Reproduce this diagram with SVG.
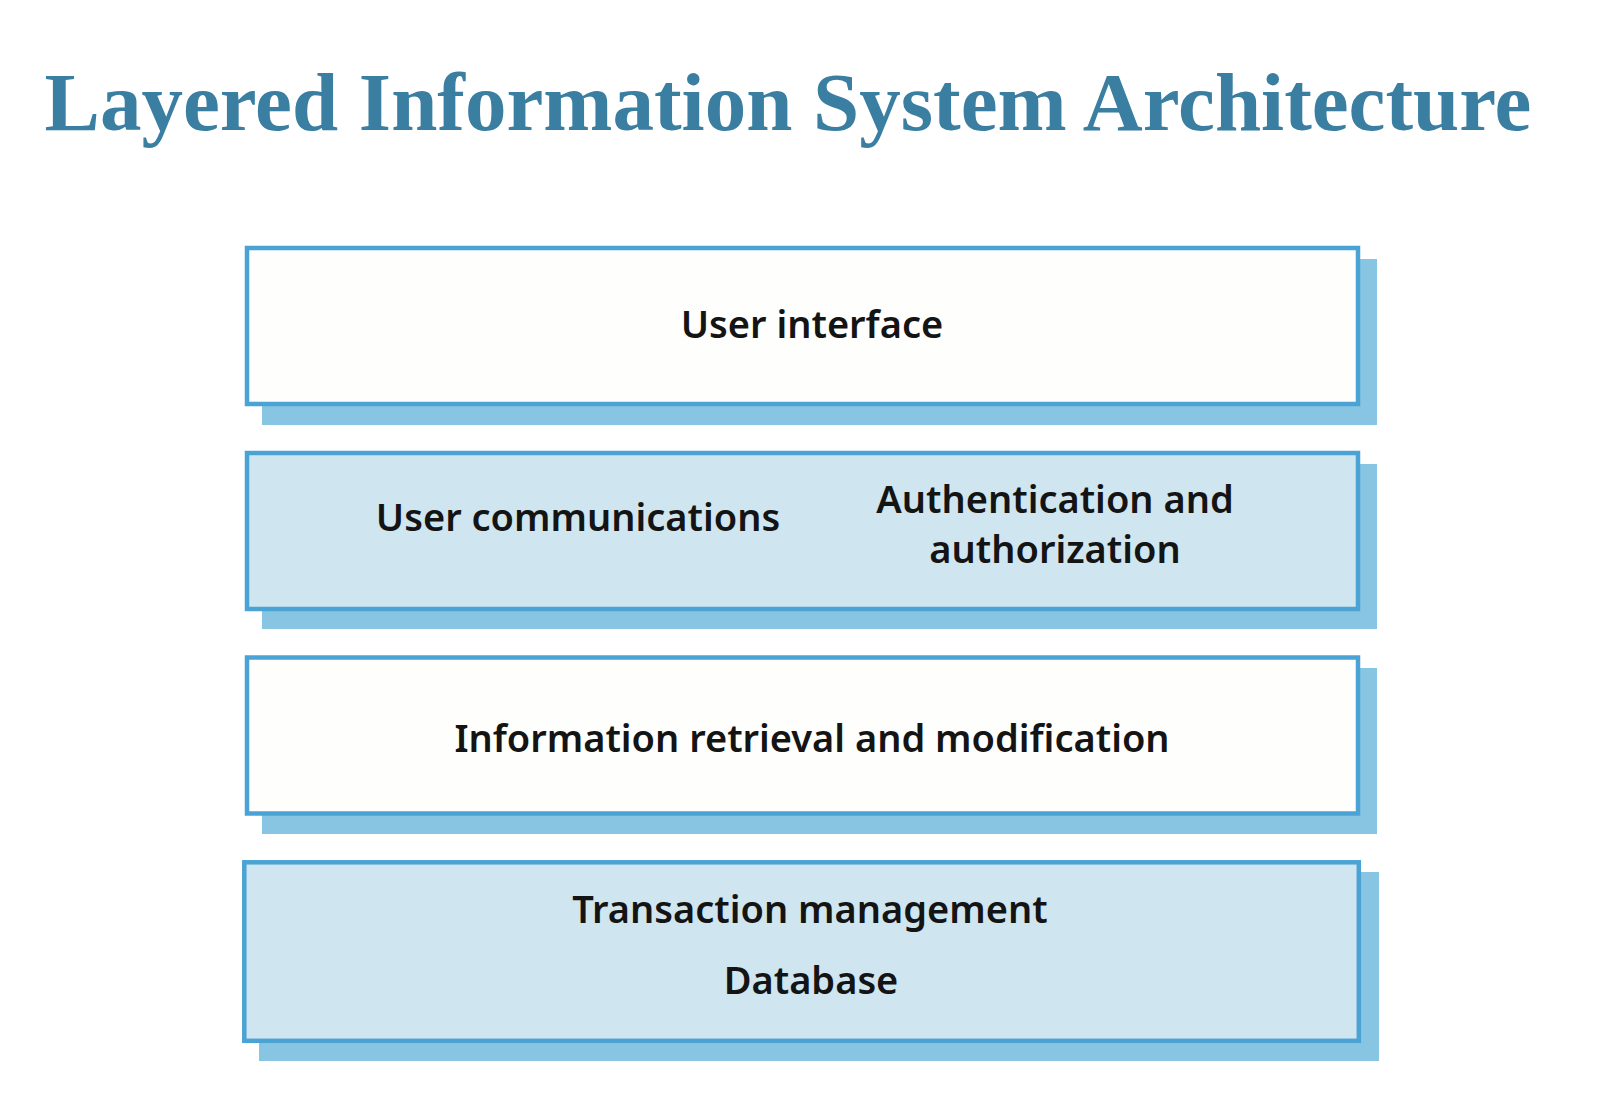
<svg xmlns="http://www.w3.org/2000/svg" width="1598" height="1100" viewBox="0 0 1598 1100">
<style>
.bg{fill:#ffffff}
.title{font-family:"Liberation Serif","Times New Roman",serif;font-weight:bold;font-size:83px;fill:#3A7FA1}
.shadow{fill:#87C5E3}
.box{stroke:#4BA3D5;stroke-width:4.5}
.w{fill:#FEFEFC}
.b{fill:#CFE6F0}
.lbl{font-family:"Noto Sans","Open Sans","DejaVu Sans",sans-serif;font-weight:600;font-size:38px;fill:#141414;text-anchor:middle}
</style>
<rect class="bg" x="0" y="0" width="1598" height="1100"/>
<text class="title" x="788" y="130" text-anchor="middle">Layered Information System Architecture</text>
<g id="connectors"></g>
<g id="layer-ui">
<rect class="shadow" x="262" y="259" width="1115" height="166"/>
<rect class="box w" x="247" y="248" width="1111" height="156"/>
<text class="lbl" x="812" y="338">User interface</text>
</g>
<g id="layer-comm">
<rect class="shadow" x="262" y="464" width="1115" height="165"/>
<rect class="box b" x="247" y="453" width="1111" height="156"/>
<text class="lbl" x="578" y="531">User communications</text>
<text class="lbl" x="1055" y="513">Authentication and</text>
<text class="lbl" x="1055" y="563">authorization</text>
</g>
<g id="layer-info">
<rect class="shadow" x="262" y="668" width="1115" height="166"/>
<rect class="box w" x="247" y="657.5" width="1111" height="156"/>
<text class="lbl" x="812" y="752">Information retrieval and modification</text>
</g>
<g id="layer-db">
<rect class="shadow" x="259" y="872" width="1120" height="189"/>
<rect class="box b" x="244.3" y="862.3" width="1114.5" height="178.5"/>
<text class="lbl" x="810" y="923">Transaction management</text>
<text class="lbl" x="811" y="994">Database</text>
</g>
</svg>
